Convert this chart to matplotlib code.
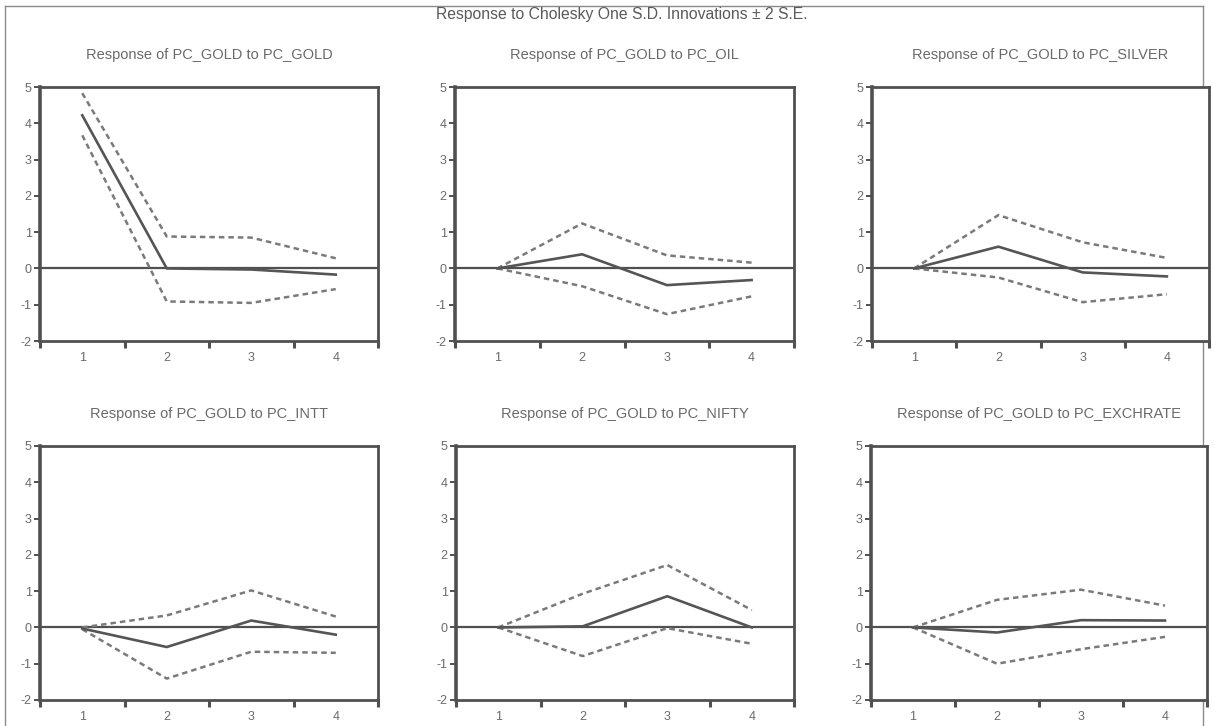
import matplotlib
matplotlib.use("Agg")
import matplotlib.pyplot as plt
from matplotlib.lines import Line2D
import numpy as np

plt.rcParams['font.family'] = ['Liberation Sans', 'DejaVu Sans']

# Impulse-response periods
periods = [1, 2, 3, 4]

# Response of PC_GOLD to each shock: point estimate and +/- 2 S.E. bands
shocks = ["PC_GOLD", "PC_OIL", "PC_SILVER", "PC_INTT", "PC_NIFTY", "PC_EXCHRATE"]

resp_gold = [4.22, 0.00, -0.03, -0.17]
upper_gold = [4.83, 0.88, 0.85, 0.28]
lower_gold = [3.67, -0.91, -0.95, -0.57]

resp_oil = [0.00, 0.39, -0.46, -0.32]
upper_oil = [0.00, 1.24, 0.36, 0.16]
lower_oil = [0.00, -0.49, -1.26, -0.77]

resp_silver = [0.00, 0.60, -0.11, -0.22]
upper_silver = [0.00, 1.47, 0.72, 0.29]
lower_silver = [0.00, -0.25, -0.93, -0.71]

resp_intt = [-0.03, -0.54, 0.19, -0.20]
upper_intt = [0.00, 0.33, 1.02, 0.30]
lower_intt = [-0.05, -1.41, -0.67, -0.70]

resp_nifty = [0.00, 0.03, 0.86, 0.00]
upper_nifty = [0.00, 0.93, 1.72, 0.48]
lower_nifty = [0.00, -0.79, -0.02, -0.45]

resp_exch = [0.00, -0.14, 0.20, 0.19]
upper_exch = [0.00, 0.76, 1.04, 0.60]
lower_exch = [0.00, -1.00, -0.60, -0.26]

responses = [resp_gold, resp_oil, resp_silver, resp_intt, resp_nifty, resp_exch]
uppers = [upper_gold, upper_oil, upper_silver, upper_intt, upper_nifty, upper_exch]
lowers = [lower_gold, lower_oil, lower_silver, lower_intt, lower_nifty, lower_exch]

y_ticks = [-2, -1, 0, 1, 2, 3, 4, 5]

W, H = 1213, 726
fig = plt.figure(figsize=(W / 100, H / 100), dpi=100)
fig.patch.set_facecolor("white")

# Outer frame of the graph window
frame_kw = dict(color="#8a8a8a", lw=1.0, transform=fig.transFigure, zorder=0)
fig.add_artist(Line2D([5 / W, 5 / W], [1 - 6 / H, 0], **frame_kw))
fig.add_artist(Line2D([5 / W, 1203 / W], [1 - 6 / H, 1 - 6 / H], **frame_kw))
fig.add_artist(Line2D([1203 / W, 1203 / W], [1 - 6 / H, 0], **frame_kw))

# Panel boxes in pixels: (left, right, top, bottom)
boxes = [
    (40, 378, 87, 341), (455, 794, 87, 341), (872, 1209, 87, 341),
    (40, 378, 446, 700), (456, 794, 446, 700), (871, 1207, 446, 700),
]

text_c = "#6a6a6a"
spine_c = "#505050"
line_c = "#555555"
band_c = "#7a7a7a"

for i, shock in enumerate(shocks):
    l, r, t, b = boxes[i]
    ax = fig.add_axes([l / W, 1 - b / H, (r - l) / W, (b - t) / H])
    ax.set_facecolor("white")
    ax.set_zorder(2)
    ax.axhline(0, color="#505050", lw=1.6, zorder=2)
    ax.plot(periods, uppers[i], color=band_c, lw=1.8, dashes=(2.2, 1.6), zorder=3)
    ax.plot(periods, lowers[i], color=band_c, lw=1.8, dashes=(2.2, 1.6), zorder=3)
    ax.plot(periods, responses[i], color=line_c, lw=1.9, zorder=4)

    ax.set_xlim(0.5, 4.5)
    ax.set_ylim(-2, 5)
    ax.set_yticks(y_ticks)
    ax.set_yticklabels([str(v) for v in y_ticks])
    # period boundaries carry the tick marks, period centres carry the labels
    ax.set_xticks(np.arange(0.5, 4.6, 1.0))
    ax.set_xticklabels([])
    ax.set_xticks(periods, minor=True)
    ax.set_xticklabels([str(p) for p in periods], minor=True)
    ax.tick_params(axis="x", which="major", direction="out", length=5, width=2.2,
                   color=spine_c)
    ax.tick_params(axis="x", which="minor", length=0, pad=8, labelsize=9,
                   labelcolor=text_c)
    ax.tick_params(axis="y", direction="out", length=4, width=1.4, color=spine_c,
                   pad=2, labelsize=9, labelcolor=text_c)
    for side, sp in ax.spines.items():
        sp.set_color(spine_c)
        sp.set_linewidth(2.6 if side == "left" else 2.0)
    ax.set_title(f"Response of PC_GOLD to {shock}", fontsize=10.5, color=text_c, pad=20)

fig.text(622 / W, 1 - 15 / H, "Response to Cholesky One S.D. Innovations \u00b1 2 S.E.",
         ha="center", va="center", fontsize=11.3, color="#5a5a5a")

fig.savefig("out.png", dpi=100, facecolor="white")
